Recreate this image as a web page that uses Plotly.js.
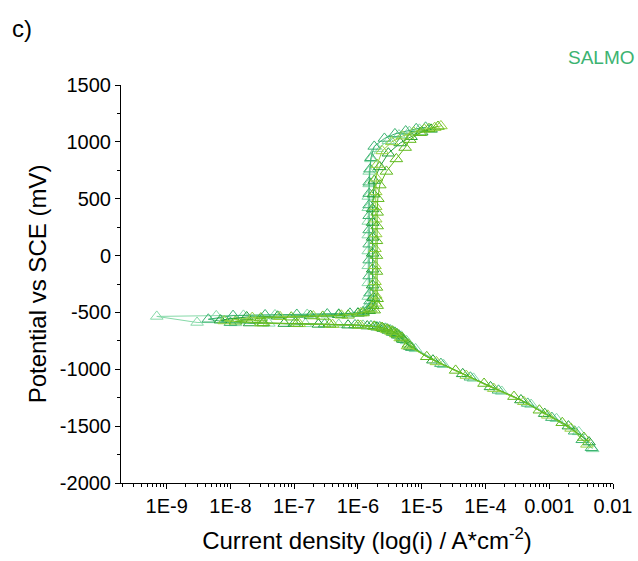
<!DOCTYPE html>
<html>
<head>
<meta charset="utf-8">
<script src="https://cdn.plot.ly/plotly-3.0.1.min.js"></script>
<style>html,body{margin:0;padding:0;background:#fff;}#chart{width:638px;height:561px;}</style>
</head>
<body>
<div id="chart"></div>
<script>
// Current density (A/cm2) and potential (mV vs SCE) for five repeat scans
const iA = [4.6e-3, 3.3e-3, 2.5e-3, 1.1e-3, 4.6e-4, 1.6e-4, 5.8e-5, 2.0e-5, 7.0e-6, 5.2e-6, 4.4e-6, 3.8e-6, 3.2e-6, 2.7e-6, 2.2e-6, 1.6e-6, 9.0e-7, 3.0e-7, 1.0e-7, 3.2e-8, 1.0e-8, 4.5e-9, 1.1e-8, 3.5e-8, 1.1e-7, 3.3e-7, 7.5e-7, 1.2e-6, 1.5e-6, 1.55e-6, 1.55e-6, 1.5e-6, 1.5e-6, 1.5e-6, 1.5e-6, 1.5e-6, 1.5e-6, 1.5e-6, 1.5e-6, 1.55e-6, 1.6e-6, 1.8e-6, 2.6e-6, 3.8e-6, 5.6e-6, 8.2e-6, 1.15e-5];
const EA = [-1690, -1620, -1545, -1425, -1300, -1185, -1070, -950, -810, -740, -700, -675, -655, -640, -628, -618, -610, -603, -598, -594, -590, -560, -528, -522, -518, -514, -508, -495, -465, -400, -330, -180, -40, 100, 225, 350, 445, 545, 645, 760, 860, 960, 1030, 1070, 1095, 1115, 1128];

const iB = [3.9e-3, 2.2e-3, 9.5e-4, 4.0e-4, 1.35e-4, 5.0e-5, 1.7e-5, 6.0e-6, 4.6e-6, 3.9e-6, 3.3e-6, 2.8e-6, 2.3e-6, 1.8e-6, 1.1e-6, 4.0e-7, 1.2e-7, 3.0e-8, 8.0e-9, 2.2e-8, 6.0e-8, 2.0e-7, 5.5e-7, 1.1e-6, 1.6e-6, 1.9e-6, 1.9e-6, 1.85e-6, 1.85e-6, 1.85e-6, 1.9e-6, 1.9e-6, 1.9e-6, 1.9e-6, 1.95e-6, 2.0e-6, 2.4e-6, 3.4e-6, 5.0e-6, 7.5e-6, 1.1e-5, 1.6e-5, 2.0e-5];
const EB = [-1660, -1520, -1405, -1285, -1170, -1055, -935, -795, -725, -690, -668, -650, -636, -625, -615, -607, -600, -594, -575, -545, -538, -532, -525, -505, -470, -420, -350, -230, -90, 60, 190, 320, 430, 560, 680, 800, 920, 1000, 1050, 1085, 1110, 1125, 1140];

const iC = [4.8e-3, 2.9e-3, 1.3e-3, 5.2e-4, 1.8e-4, 6.5e-5, 2.2e-5, 8.0e-6, 5.8e-6, 4.8e-6, 4.0e-6, 3.4e-6, 2.9e-6, 2.4e-6, 1.9e-6, 1.2e-6, 5.0e-7, 1.5e-7, 4.0e-8, 1.2e-8, 3.0e-9, 7.0e-10, 6.0e-9, 1.6e-8, 5.0e-8, 1.6e-7, 5.0e-7, 1.0e-6, 1.4e-6, 1.5e-6, 1.45e-6, 1.45e-6, 1.45e-6, 1.45e-6, 1.45e-6, 1.45e-6, 1.45e-6, 1.45e-6, 1.5e-6, 1.5e-6, 1.6e-6, 2.0e-6, 3.0e-6, 4.4e-6, 6.4e-6, 9.2e-6];
const EC = [-1700, -1550, -1435, -1310, -1195, -1080, -960, -820, -750, -710, -685, -665, -648, -635, -624, -614, -606, -600, -596, -592, -588, -535, -530, -526, -522, -518, -514, -505, -480, -430, -360, -240, -90, 40, 180, 300, 420, 520, 630, 740, 850, 940, 1010, 1060, 1090, 1110];

const iD = [4.2e-3, 2.0e-3, 8.5e-4, 3.6e-4, 1.2e-4, 4.4e-5, 1.5e-5, 6.5e-6, 5.0e-6, 4.2e-6, 3.5e-6, 3.0e-6, 2.5e-6, 2.0e-6, 1.4e-6, 7.0e-7, 2.4e-7, 7.0e-8, 2.0e-8, 7.0e-9, 1.8e-8, 5.5e-8, 1.8e-7, 5.0e-7, 1.0e-6, 1.5e-6, 1.7e-6, 1.75e-6, 1.7e-6, 1.7e-6, 1.7e-6, 1.7e-6, 1.7e-6, 1.7e-6, 1.75e-6, 1.8e-6, 2.2e-6, 3.0e-6, 4.6e-6, 6.8e-6, 1.0e-5, 1.4e-5];
const ED = [-1640, -1500, -1390, -1270, -1155, -1040, -920, -800, -735, -700, -676, -658, -642, -630, -620, -612, -605, -598, -593, -568, -540, -534, -528, -520, -508, -485, -440, -370, -260, -120, 20, 160, 290, 410, 540, 660, 780, 900, 990, 1045, 1085, 1110];

const iE = [3.5e-3, 1.6e-3, 7.0e-4, 2.8e-4, 9.5e-5, 3.4e-5, 1.2e-5, 6.2e-6, 4.9e-6, 4.1e-6, 3.5e-6, 2.9e-6, 2.4e-6, 1.8e-6, 1.0e-6, 3.6e-7, 1.1e-7, 3.3e-8, 1.2e-8, 3.0e-8, 9.0e-8, 2.8e-7, 7.0e-7, 1.2e-6, 1.8e-6, 2.0e-6, 2.0e-6, 1.95e-6, 1.95e-6, 1.95e-6, 1.95e-6, 2.0e-6, 2.0e-6, 2.05e-6, 2.2e-6, 2.8e-6, 4.0e-6, 5.5e-6, 6.5e-6, 9.5e-6, 1.3e-5, 1.8e-5];
const EE = [-1600, -1470, -1360, -1240, -1125, -1010, -890, -780, -720, -688, -665, -648, -634, -622, -612, -604, -598, -592, -578, -550, -542, -535, -525, -505, -480, -440, -380, -280, -140, 0, 130, 260, 380, 500, 620, 740, 850, 950, 1020, 1080, 1115, 1135];

const xTickVals = [1e-9, 1e-8, 1e-7, 1e-6, 1e-5, 1e-4, 1e-3, 1e-2];
const xTickText = ['1E-9', '1E-8', '1E-7', '1E-6', '1E-5', '1E-4', '0.001', '0.01'];
const yTickVals = [-2000, -1500, -1000, -500, 0, 500, 1000, 1500];
const yTickText = ['-2000', '-1500', '-1000', '-500', '0', '500', '1000', '1500'];

// minor log ticks 2..9 in each decade
const xMinor = [];
for (let d = -10; d <= -3; d++) {
  for (let k = 2; k <= 9; k++) {
    const v = k * Math.pow(10, d);
    if (Math.log10(v) > -9.716 && Math.log10(v) < -2) xMinor.push(v);
  }
}

const series = [
  {x: iC, y: EC, color: '#86d9a8'},
  {x: iA, y: EA, color: '#3cb371'},
  {x: iD, y: ED, color: '#22a03a'},
  {x: iB, y: EB, color: '#96d040'},
  {x: iE, y: EE, color: '#62bb1e'}
];

const traces = series.map(s => ({
  x: s.x, y: s.y, type: 'scatter', mode: 'lines+markers',
  line: {color: s.color, width: 1},
  marker: {symbol: 'triangle-up-open', size: 11, color: s.color, line: {width: 1, color: s.color}},
  hoverinfo: 'x+y'
}));

const FONT = 'Arial, "Liberation Sans", sans-serif';

const layout = {
  width: 638, height: 561,
  margin: {l: 121, r: 25, t: 85, b: 78, pad: 0},
  paper_bgcolor: '#fff', plot_bgcolor: '#fff',
  showlegend: false,
  font: {family: FONT, color: '#000'},
  xaxis: {
    type: 'log', range: [-9.716, -2],
    showline: true, linecolor: '#000', linewidth: 1,
    ticks: 'outside', ticklen: 5, tickwidth: 1, tickcolor: '#000',
    tickmode: 'array', tickvals: xTickVals, ticktext: xTickText,
    tickfont: {size: 20, family: FONT, color: '#000'},
    showgrid: false, zeroline: false,
    minor: {ticks: 'outside', ticklen: 3, tickcolor: '#000', tickmode: 'array', tickvals: xMinor, showgrid: false},
    title: {text: 'Current density (log(i) / A*cm<sup>-2</sup>)', font: {size: 24, family: FONT, color: '#000'}, standoff: 16},
    automargin: false
  },
  yaxis: {
    range: [-2000, 1500],
    showline: true, linecolor: '#000', linewidth: 1,
    ticks: 'outside', ticklen: 5, tickwidth: 1, tickcolor: '#000',
    tickmode: 'array', tickvals: yTickVals, ticktext: yTickText,
    tickfont: {size: 20, family: FONT, color: '#000'},
    showgrid: false, zeroline: false,
    minor: {ticks: 'outside', ticklen: 3, tickcolor: '#000', dtick: 250, tick0: 0, showgrid: false},
    title: {text: 'Potential vs SCE (mV)', font: {size: 24, family: FONT, color: '#000'}, standoff: 6},
    automargin: false
  },
  annotations: [
    {text: 'c)', xref: 'paper', yref: 'paper', x: -0.226, y: 1.143, xanchor: 'left', yanchor: 'middle', showarrow: false, font: {size: 24, family: FONT, color: '#000'}},
    {text: 'SALMO', xref: 'paper', yref: 'paper', x: 1.049, y: 1.070, xanchor: 'right', yanchor: 'middle', showarrow: false, font: {size: 19, family: FONT, color: '#3cb371'}}
  ]
};

Plotly.newPlot('chart', traces, layout, {displayModeBar: false, staticPlot: true});
</script>
</body>
</html>
